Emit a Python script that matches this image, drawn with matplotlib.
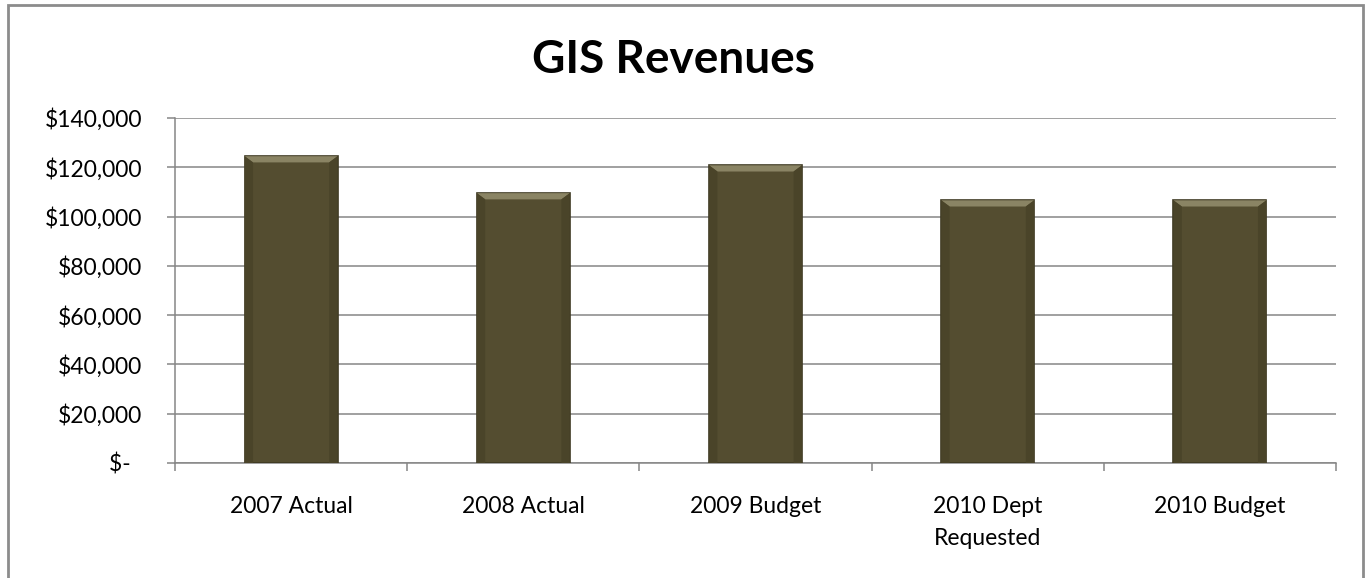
import matplotlib
matplotlib.use("Agg")
import matplotlib.pyplot as plt
from matplotlib.patches import Rectangle, Polygon
from matplotlib.ticker import FuncFormatter

categories = ["2007 Actual", "2008 Actual", "2009 Budget", "2010 Dept\nRequested", "2010 Budget"]
revenues = [124500, 109500, 120800, 106600, 106600]
y_ticks = [0, 20000, 40000, 60000, 80000, 100000, 120000, 140000]

plt.rcParams["font.family"] = ["Lato", "DejaVu Sans"]

fig = plt.figure(figsize=(13.69, 5.78), dpi=100)
ax = fig.add_axes([175 / 1369, 1 - 463 / 578, (1336 - 175) / 1369, 345 / 578])

# outer chart frame
fig.patches.append(Rectangle((8 / 1369, -0.05), (1363 - 8) / 1369, 1.05 - 5 / 578,
                             transform=fig.transFigure, fill=False,
                             edgecolor="#8c8c8c", linewidth=2))

x = list(range(len(categories)))
bar_w = 0.40
bars = ax.bar(x, revenues, width=bar_w, color="#544d30", edgecolor="#3e3922",
              linewidth=1.2, zorder=3)

# bevel highlight at the top of each bar, derived from the bar geometry
for b in bars:
    x0, w, h = b.get_x(), b.get_width(), b.get_height()
    dx = w * 0.09
    dy = 140000 * 0.018
    ax.add_patch(Polygon([(x0, h), (x0 + w, h), (x0 + w - dx, h - dy), (x0 + dx, h - dy)],
                         closed=True, facecolor="#8a8464", edgecolor="none", zorder=4))
    ax.add_patch(Polygon([(x0, h), (x0 + dx, h - dy), (x0 + dx, 0), (x0, 0)],
                         closed=True, facecolor="#4a4429", edgecolor="none", zorder=4))
    ax.add_patch(Polygon([(x0 + w, h), (x0 + w - dx, h - dy), (x0 + w - dx, 0), (x0 + w, 0)],
                         closed=True, facecolor="#4a4429", edgecolor="none", zorder=4))

ax.set_xlim(-0.5, len(categories) - 0.5)
ax.set_ylim(0, 140000)
ax.set_yticks(y_ticks)
ax.yaxis.set_major_formatter(FuncFormatter(lambda v, p: "$-  " if v == 0 else "${:,.0f}".format(v)))
ax.yaxis.grid(True, color="#868686", linewidth=1.1, zorder=0)
ax.set_xticks(x)
ax.set_xticklabels(categories, linespacing=1.65)
ax.set_xticks([i + 0.5 for i in range(-1, len(categories))], minor=True)
ax.tick_params(axis="x", which="major", length=0, pad=24, labelsize=16.5)
ax.tick_params(axis="x", which="minor", length=5.8, color="#868686", width=1.1)
ax.tick_params(axis="y", length=5.8, color="#868686", width=1.1, labelsize=16.5, pad=18)

for s in ["top", "right"]:
    ax.spines[s].set_visible(False)
for s in ["left", "bottom"]:
    ax.spines[s].set_color("#868686")
    ax.spines[s].set_linewidth(1.1)

fig.text(673 / 1369, 1 - 60 / 578, "GIS Revenues", ha="center", va="center",
         fontsize=33, fontweight="bold")

fig.savefig("out.png", dpi=100)
